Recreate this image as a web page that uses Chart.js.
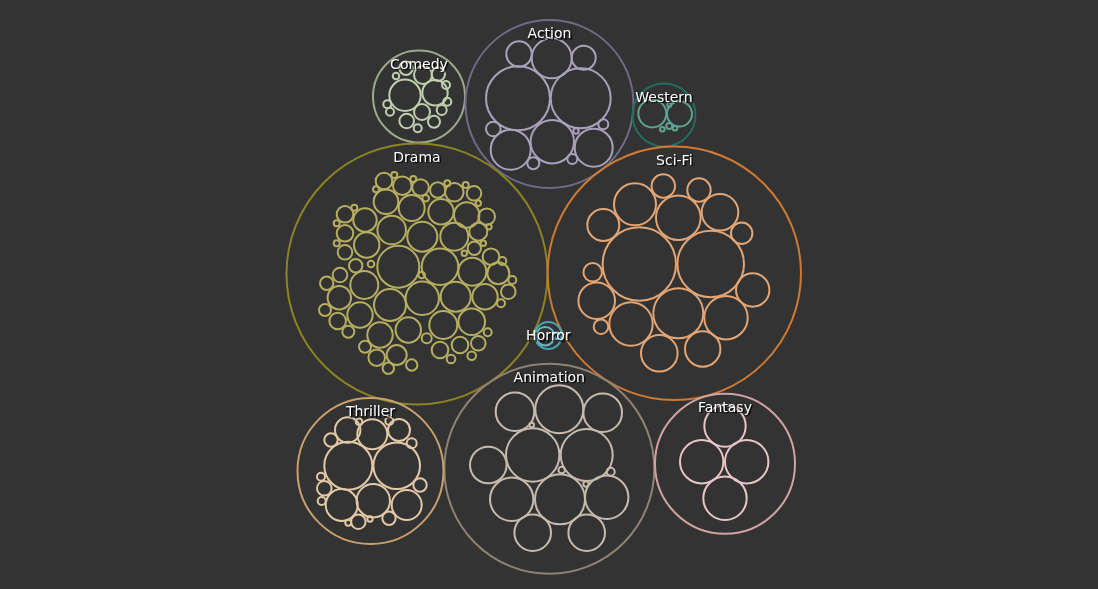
<!DOCTYPE html>
<html>
<head>
<meta charset="utf-8">
<script src="https://cdn.jsdelivr.net/npm/chart.js@4/dist/chart.umd.min.js"></script>
<style>
html,body{margin:0;padding:0;background:#333333;}
#wrap{position:relative;width:1098px;height:589px;}
</style>
</head>
<body>
<div id="wrap"><canvas id="c"></canvas></div>
<script>
// Genre (group) circles: name, centre and radius in layout units
const genres = ['Comedy','Action','Western','Drama','Sci-Fi','Horror','Animation','Thriller','Fantasy'];
const groupX = [419, 549.5, 664, 417, 674.3, 548.3, 549.3, 370.5, 725];
const groupY = [96.5, 104, 115, 274, 273.3, 335.5, 468.8, 471, 463.7];
const groupR = [46, 84, 31.5, 130.5, 126.7, 13.5, 105, 73, 70];
const groupColors = ['#9caa8a','#716a86','#226e5e','#8c8424','#cf7a32','#4aa3b3','#8f8374','#c9a06e','#d2a2a2'];
const childColors = ['#c2cfae','#aaa2bc','#5fa393','#b6ae60','#e3a574','#67b6c3','#c7bbad','#e3c8a6','#e9c6c6'];

// Member circles per genre: [x, y, r]
const comedy = [[405,95.3,15.7],[435,92.7,12.7],[423,75,9],[438.3,74.3,6.7],[406,68.3,6.7],[396,76,3.3],[446,85,4],
  [387.3,104.3,4],[390,111.7,4],[406.7,121,7.3],[422,112,8],[434,121.7,6],[441.7,110,5],[447.3,101.7,4],[417.7,128.3,4]];
const action = [[518,98.3,32],[580.7,98.3,30],[551.7,58.3,20],[519,54,12.7],[583.7,57.7,12],[552.3,141.7,21.7],
  [510.7,149.7,20],[593.7,147.7,19],[493.3,129,7.3],[533.3,163.3,6],[603.3,124.3,5],[572.3,159,5],[576,131,2.7]];
const western = [[652.3,113.5,14],[679.5,114,12.5],[662.3,129.3,2.3],[669.3,126,3],[675,128.3,2.3],[669.3,105,2]];
const drama = [[384,181,8.3],[394.3,175,3],[402.3,185.7,9.3],[413.3,179,3],[420.5,187.5,8.3],[376,189.3,3],[437.7,190,7.7],
  [447.3,183.3,3],[454.3,192.3,9.3],[465.7,185,3],[474,193.3,7.3],[386,201.7,12.3],[411.7,208,13],[425.7,198.3,3.3],
  [441,211.7,12.7],[466.7,215,12.7],[478.3,203.3,2.7],[486.7,216.7,8.3],[489,226.7,2.7],[345,214.3,8.3],[354.3,207.7,3],
  [365,220,11.7],[336.7,223.3,3],[345,233.3,8.3],[391.7,230,14.3],[422.3,236.7,15],[454.3,236.7,14],[478.3,231.7,9],
  [336.7,243.3,3],[345,252.3,7.3],[366.7,245,12.7],[474.3,248.3,6.7],[483.3,243.3,2.7],[464.3,253.3,2.7],[398.3,266.7,21],
  [440,266.7,18.3],[491,256.7,8.3],[502.3,261,4],[355.7,265.7,6.7],[371,264,3.3],[472.3,271.7,14],[498.3,273.3,11],
  [512.3,280,4],[340,275,7.3],[326.7,283.3,6.7],[364.3,285,14],[421.7,275,3.3],[422.3,298.3,16.7],[390,305,16],
  [455.7,296.7,15],[485,296.7,12.7],[508.3,291.7,7.3],[501,303.3,4],[339.3,297.7,11.7],[325,310,6],[360,315,12.7],
  [337.7,321,8.3],[348.3,331.7,6],[380,335,12.7],[408.3,330,12.7],[443.3,325,14],[471.7,321.7,13.3],[487.7,332.3,4],
  [426.7,338.3,5],[365,346.7,6],[376.7,357.7,8.3],[396.7,355,10],[388.3,368.3,5.7],[411.7,365,5.7],[440,350,8.3],
  [460,345,8.3],[478.3,343.3,7.3],[451,359,4.3],[471.7,355.7,4.3]];
const scifi = [[639.3,264,36.7],[710.7,264,33.3],[635,204.3,21],[678.3,217.7,22.3],[663.3,186,11.7],[699,190,11.7],
  [720,212.3,18.3],[741.7,233.3,10.7],[603.3,225,16],[592.7,272.3,9.3],[752.7,290,16.7],[596.7,300.7,18.3],
  [601,326.7,7.3],[631,324,21.7],[678.3,313.3,25],[726,317.7,21.7],[659.3,353.3,18.3],[702.7,349,17.7]];
const horror = [[545.3,336.2,9.3],[556.7,335.7,3.3]];
const animation = [[515,411.7,19.3],[559.3,409.3,24],[602.7,412.7,19.3],[532.7,455,26.7],[586.7,455,26],[488.3,465,18.3],
  [511.7,499.3,21.7],[560,499.3,25],[606.7,497.3,21.7],[532.7,532.7,18.3],[586.7,532.7,18.3],[531.7,425,2.3],
  [561.7,470,3.3],[610.7,471.7,4],[586,484,2.7]];
const thriller = [[348.3,465.7,24],[396.7,465.7,23.3],[372.3,434.3,15],[347.7,430,12.7],[399,430,11],[331,440,6.7],
  [411.7,443.3,5],[359,421.7,3.3],[389.3,421,4],[341.7,505,16],[373.3,500.7,16.7],[406.7,505,15],[420,485,6.7],
  [324.3,488.3,7.3],[321,476.7,4],[321.7,501,4],[358.3,521.7,7.3],[389,518.3,6.7],[348.3,522.7,3],[370,519,2.7]];
const fantasy = [[725,426,20.7],[701.7,461.7,21.7],[746.7,461.7,21.7],[725,498.3,21.7]];

const members = [comedy, action, western, drama, scifi, horror, animation, thriller, fantasy];

// Convert a radius in data units to pixels through the x scale
function toPx(chart, v) {
  const s = chart.scales && chart.scales.x;
  if (!s || !isFinite(s.width) || s.width <= 0) return 0;
  const p = Math.abs(s.getPixelForValue(v) - s.getPixelForValue(0));
  return isFinite(p) ? p : 0;
}

const datasets = [];
members.forEach((list, gi) => {
  datasets.push({
    label: genres[gi] + ' items',
    data: list.map(p => ({x: p[0], y: p[1], v: p[2]})),
    borderColor: childColors[gi],
    backgroundColor: 'rgba(0,0,0,0)',
    borderWidth: 2,
    order: 1
  });
});
datasets.push({
  label: 'Genres',
  data: genres.map((g, i) => ({x: groupX[i], y: groupY[i], v: groupR[i], name: g})),
  borderColor: groupColors,
  backgroundColor: 'rgba(0,0,0,0)',
  borderWidth: 2,
  order: 2
});

const labelPlugin = {
  id: 'genreLabels',
  afterDatasetsDraw(chart) {
    const ctx = chart.ctx;
    const xs = chart.scales.x, ys = chart.scales.y;
    ctx.save();
    ctx.font = '14px "DejaVu Sans", sans-serif';
    ctx.textAlign = 'center';
    ctx.textBaseline = 'middle';
    genres.forEach((g, i) => {
      const x = xs.getPixelForValue(groupX[i]);
      const y = ys.getPixelForValue(groupY[i] - groupR[i]) + 14.5;
      ctx.shadowColor = 'rgba(0,0,0,0.95)';
      ctx.shadowOffsetX = 1.5;
      ctx.shadowOffsetY = 1.5;
      ctx.shadowBlur = 1;
      ctx.fillStyle = '#ffffff';
      ctx.fillText(g, x, y);
    });
    ctx.restore();
  }
};

new Chart(document.getElementById('c'), {
  type: 'bubble',
  data: {datasets},
  options: {
    responsive: true,
    maintainAspectRatio: false,
    animation: false,
    parsing: false,
    normalized: true,
    events: [],
    layout: {padding: 0, autoPadding: false},
    elements: {
      point: {
        radius: (c) => (c.raw && c.raw.v !== undefined) ? toPx(c.chart, c.raw.v) : 0,
        hoverRadius: 0,
        pointStyle: 'circle'
      }
    },
    scales: {
      x: {type: 'linear', min: 0, max: 1098, display: false},
      y: {type: 'linear', min: 0, max: 589, reverse: true, display: false}
    },
    plugins: {legend: {display: false}, tooltip: {enabled: false}}
  },
  plugins: [labelPlugin]
});
</script>
</body>
</html>
